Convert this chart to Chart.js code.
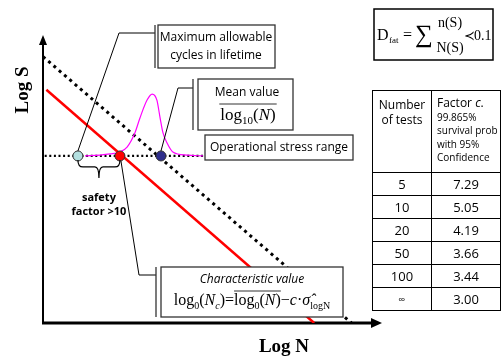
<!DOCTYPE html>
<html>
<head>
<meta charset="utf-8">
<script src="https://cdn.jsdelivr.net/npm/chart.js@4.4.1/dist/chart.umd.min.js"></script>
<style>
  html, body { margin: 0; padding: 0; background: #fff; }
  #wrap { position: relative; width: 502px; height: 360px; overflow: hidden; }
  #tbl {
    position: absolute; left: 372px; top: 90px; width: 128px;
    border-collapse: collapse; font-family: "Open Sans", sans-serif; color: #000;
    table-layout: fixed;
  }
  #tbl td { border: 1.5px solid #000; padding: 0; text-align: center; font-size: 13px; line-height: 14px; }
  #tbl tr.row td { height: 22px; }
  #tbl td.h1 { vertical-align: top; padding-top: 6px; font-size: 12px; line-height: 15px; }
  #tbl td.h2 { vertical-align: top; text-align: left; padding: 5px 0 0 5px; font-size: 10px; line-height: 13.5px; height: 76px; }
  #tbl td.h2 span { font-size: 12px; }
  #tbl td.inf { font-size: 10px; }
</style>
</head>
<body>
<div id="wrap">
  <canvas id="c" width="502" height="360"></canvas>
  <table id="tbl"></table>
</div>
<script>
// S-N diagram values, in log units
const meanCurveN = [0.0, 9.1];
const meanCurveS = [9.25, 0.0];
const designCurveN = [0.1, 8.0];
const designCurveS = [8.1, 0.0];
const stressLevel = 5.8;
const stressRangeN = [0.05, 4.78];
const bellN = [1.24, 1.68, 1.98, 2.27, 2.48, 2.71, 2.86, 3.07, 3.22, 3.36, 3.45, 3.54, 3.66, 3.83, 4.25, 4.72];
const bellS = [5.80, 5.83, 5.87, 5.94, 6.11, 6.60, 7.12, 7.74, 7.95, 7.74, 7.15, 6.60, 6.25, 5.94, 5.83, 5.80];
const markerN = [1.03, 2.27, 3.48]; // allowable, characteristic, mean

// table of factor c
const tableTests = ['5', '10', '20', '50', '100', '∞'];
const tableFactor = ['7.29', '5.05', '4.19', '3.66', '3.44', '3.00'];

const toXY = (xs, ys) => xs.map((x, i) => ({ x: x, y: ys[i] }));
const SANS = '"Open Sans", sans-serif';
const SERIF = '"Liberation Serif", serif';

// tableau
let html = '<colgroup><col style="width:59px"><col style="width:69px"></colgroup>';
html += '<tr><td class="h1">Number<br>of tests</td><td class="h2"><span>Factor <i>c</i>.</span><br>99.865%<br>survival prob<br>with 95%<br>Confidence</td></tr>';
tableTests.forEach((t, i) => {
    html += '<tr class="row"><td' + (t === '∞' ? ' class="inf"' : '') + '>' + t + '</td><td>' + tableFactor[i] + '</td></tr>';
});
document.getElementById('tbl').innerHTML = html;

// texte riche : suite de morceaux {t, f, dy}
function runWidth(ctx, parts) {
    return parts.reduce((w, p) => { ctx.font = p.f; return w + ctx.measureText(p.t).width; }, 0);
}
function drawRuns(ctx, cx, y, parts) {
    let x = cx - runWidth(ctx, parts) / 2;
    const marks = {};
    ctx.textAlign = 'left';
    ctx.textBaseline = 'alphabetic';
    parts.forEach(p => {
        ctx.font = p.f;
        const w = ctx.measureText(p.t).width;
        if (p.mark) {
            marks[p.mark] = marks[p.mark] || { x0: x, x1: x + w };
            marks[p.mark].x1 = x + w;
        }
        ctx.fillText(p.t, x, y + (p.dy || 0));
        x += w;
    });
    return marks;
}

function calloutBox(ctx, l, t, r, b, bracketX) {
    ctx.fillStyle = '#fff';
    ctx.fillRect(l, t, r - l, b - t);
    ctx.strokeStyle = '#333';
    ctx.lineWidth = 1.3;
    ctx.strokeRect(l, t, r - l, b - t);
    if (bracketX) {
        ctx.beginPath();
        ctx.moveTo(bracketX, t);
        ctx.lineTo(bracketX, b);
        ctx.stroke();
    }
}

function leader(ctx, pts) {
    ctx.strokeStyle = '#000';
    ctx.lineWidth = 1;
    ctx.beginPath();
    ctx.moveTo(pts[0][0], pts[0][1]);
    pts.slice(1).forEach(p => ctx.lineTo(p[0], p[1]));
    ctx.stroke();
}

const diagram = {
    id: 'diagram',
    beforeDatasetsDraw(chart) {
        const ctx = chart.ctx;
        const a = chart.chartArea;
        ctx.save();
        ctx.strokeStyle = '#000';
        ctx.fillStyle = '#000';
        // axe vertical
        ctx.lineWidth = 2;
        ctx.beginPath();
        ctx.moveTo(a.left, a.bottom);
        ctx.lineTo(a.left, a.top + 8);
        ctx.stroke();
        ctx.beginPath();
        ctx.moveTo(a.left, a.top);
        ctx.lineTo(a.left - 4, a.top + 10);
        ctx.lineTo(a.left + 4, a.top + 10);
        ctx.closePath();
        ctx.fill();
        // axe horizontal
        ctx.lineWidth = 3;
        ctx.beginPath();
        ctx.moveTo(a.left - 1, a.bottom);
        ctx.lineTo(a.right - 8, a.bottom);
        ctx.stroke();
        ctx.beginPath();
        ctx.moveTo(a.right, a.bottom);
        ctx.lineTo(a.right - 11, a.bottom - 5);
        ctx.lineTo(a.right - 11, a.bottom + 5);
        ctx.closePath();
        ctx.fill();
        ctx.restore();
    },
    afterDatasetsDraw(chart) {
        const ctx = chart.ctx;
        const xs = chart.scales.x, ys = chart.scales.y;
        const py = ys.getPixelForValue(stressLevel);
        const mx = markerN.map(v => xs.getPixelForValue(v));
        ctx.save();

        // lignes de rappel
        leader(ctx, [[mx[0], py - 5], [119, 33], [155, 33]]);
        leader(ctx, [[mx[2], py - 5], [178, 88], [193, 88]]);
        leader(ctx, [[mx[1] + 1, py + 5], [139, 275], [156, 275]]);

        // accolade facteur de sécurité
        const y0 = py + 4, yh = py + 11, yt = py + 22, xm = (mx[0] + mx[1]) / 2;
        ctx.strokeStyle = '#000';
        ctx.lineWidth = 1.2;
        ctx.beginPath();
        ctx.moveTo(mx[0], y0);
        ctx.quadraticCurveTo(mx[0], yh, mx[0] + 5, yh);
        ctx.lineTo(xm - 4, yh);
        ctx.quadraticCurveTo(xm, yh, xm, yt);
        ctx.quadraticCurveTo(xm, yh, xm + 4, yh);
        ctx.lineTo(mx[1] - 5, yh);
        ctx.quadraticCurveTo(mx[1], yh, mx[1], y0);
        ctx.stroke();
        ctx.fillStyle = '#000';
        ctx.textAlign = 'center';
        ctx.textBaseline = 'middle';
        ctx.font = 'bold 11px ' + SANS;
        ctx.fillText('safety', xm, 198);
        ctx.fillText('factor >10', xm, 212);

        // boîtes
        calloutBox(ctx, 158, 25, 275, 68, 155);
        ctx.fillStyle = '#000';
        ctx.textAlign = 'center';
        ctx.textBaseline = 'middle';
        ctx.font = '12px ' + SANS;
        ctx.fillText('Maximum allowable', 216, 38);
        ctx.fillText('cycles in lifetime', 216, 56);

        calloutBox(ctx, 198, 79, 293, 130, 193);
        ctx.fillStyle = '#000';
        ctx.font = '12px ' + SANS;
        ctx.fillText('Mean value', 247, 93);
        const mm = drawRuns(ctx, 248, 120, [
            { t: 'log', f: '17px ' + SERIF, mark: 'o' },
            { t: '10', f: '11px ' + SERIF, dy: 4, mark: 'o' },
            { t: '(', f: '17px ' + SERIF, mark: 'o' },
            { t: 'N', f: 'italic 17px ' + SERIF, mark: 'o' },
            { t: ')', f: '17px ' + SERIF, mark: 'o' }
        ]);
        ctx.lineWidth = 1;
        ctx.beginPath();
        ctx.moveTo(mm.o.x0 - 1, 104);
        ctx.lineTo(mm.o.x1 + 1, 104);
        ctx.stroke();

        calloutBox(ctx, 205, 135, 353, 160, 0);
        ctx.fillStyle = '#000';
        ctx.textAlign = 'center';
        ctx.textBaseline = 'middle';
        ctx.font = '12px ' + SANS;
        ctx.fillText('Operational stress range', 279, 148);

        calloutBox(ctx, 161, 267, 343, 317, 156);
        ctx.fillStyle = '#000';
        ctx.textAlign = 'center';
        ctx.font = 'italic 12px ' + SANS;
        ctx.fillText('Characteristic value', 252, 280);
        const cm = drawRuns(ctx, 252, 305, [
            { t: 'log', f: '16px ' + SERIF },
            { t: '0', f: '10px ' + SERIF, dy: 4 },
            { t: '(', f: '16px ' + SERIF },
            { t: 'N', f: 'italic 16px ' + SERIF },
            { t: 'c', f: 'italic 10px ' + SERIF, dy: 4 },
            { t: ')', f: '16px ' + SERIF },
            { t: '=', f: '16px ' + SERIF },
            { t: 'log', f: '16px ' + SERIF, mark: 'o' },
            { t: '0', f: '10px ' + SERIF, dy: 4, mark: 'o' },
            { t: '(', f: '16px ' + SERIF, mark: 'o' },
            { t: 'N', f: 'italic 16px ' + SERIF, mark: 'o' },
            { t: ')', f: '16px ' + SERIF, mark: 'o' },
            { t: '−', f: '16px ' + SERIF },
            { t: 'c', f: 'italic 16px ' + SERIF },
            { t: '·', f: '16px ' + SERIF },
            { t: 'σ̂', f: 'italic 16px ' + SERIF },
            { t: 'logN', f: '10px ' + SERIF, dy: 4 }
        ]);
        ctx.lineWidth = 1;
        ctx.beginPath();
        ctx.moveTo(cm.o.x0, 291);
        ctx.lineTo(cm.o.x1, 291);
        ctx.stroke();

        // formule D_fat
        ctx.fillStyle = '#fff';
        ctx.fillRect(374, 9, 119, 51);
        ctx.strokeStyle = '#000';
        ctx.lineWidth = 1.5;
        ctx.strokeRect(374, 9, 119, 51);
        ctx.fillStyle = '#000';
        ctx.textAlign = 'left';
        ctx.textBaseline = 'alphabetic';
        ctx.font = '16px ' + SERIF;
        ctx.fillText('D', 377, 40);
        ctx.font = '9px ' + SERIF;
        ctx.fillText('fat', 389, 43);
        ctx.font = '16px ' + SERIF;
        ctx.fillText('=', 403, 40);
        ctx.font = '25px ' + SERIF;
        ctx.fillText('∑', 415, 42);
        ctx.textAlign = 'center';
        ctx.font = '14px ' + SERIF;
        ctx.fillText('n(S)', 450, 27);
        ctx.fillText('N(S)', 450, 52);
        ctx.textAlign = 'left';
        ctx.font = '13px ' + SERIF;
        ctx.fillText('≺', 464, 40);
        ctx.font = '14px ' + SERIF;
        ctx.fillText('0.1', 474, 40);

        // titres des axes
        ctx.font = 'bold 19px ' + SERIF;
        ctx.textAlign = 'center';
        ctx.textBaseline = 'middle';
        ctx.fillText('Log N', 284, 347);
        ctx.translate(23, 90);
        ctx.rotate(-Math.PI / 2);
        ctx.fillText('Log S', 0, 0);
        ctx.restore();
    }
};

new Chart(document.getElementById('c'), {
    type: 'scatter',
    data: {
        datasets: [
            {
                label: 'markers',
                data: markerN.map(n => ({ x: n, y: stressLevel })),
                pointRadius: 5,
                pointBackgroundColor: ['#b3e0e0', '#ff0000', '#2e2e8c'],
                pointBorderColor: '#333',
                pointBorderWidth: 1,
                showLine: false,
                order: 0
            },
            {
                label: 'distribution',
                data: toXY(bellN, bellS),
                showLine: true,
                borderColor: '#ff00ff',
                borderWidth: 1.2,
                pointRadius: 0,
                cubicInterpolationMode: 'monotone',
                order: 1
            },
            {
                label: 'stress range',
                data: stressRangeN.map(n => ({ x: n, y: stressLevel })),
                showLine: true,
                borderColor: '#000',
                borderWidth: 2.2,
                borderDash: [2, 2.6],
                pointRadius: 0,
                order: 2
            },
            {
                label: 'design curve',
                data: toXY(designCurveN, designCurveS),
                showLine: true,
                borderColor: '#ff0000',
                borderWidth: 2.5,
                pointRadius: 0,
                order: 3
            },
            {
                label: 'mean curve',
                data: toXY(meanCurveN, meanCurveS),
                showLine: true,
                borderColor: '#000',
                borderWidth: 3,
                borderDash: [3, 4],
                pointRadius: 0,
                order: 4
            }
        ]
    },
    options: {
        responsive: false,
        animation: false,
        layout: { padding: { left: 43, right: 120, top: 35, bottom: 37 } },
        plugins: {
            legend: { display: false },
            tooltip: { enabled: false }
        },
        scales: {
            x: { type: 'linear', min: 0, max: 10, display: false },
            y: { type: 'linear', min: 0, max: 10, display: false }
        }
    },
    plugins: [diagram]
});
</script>
</body>
</html>
